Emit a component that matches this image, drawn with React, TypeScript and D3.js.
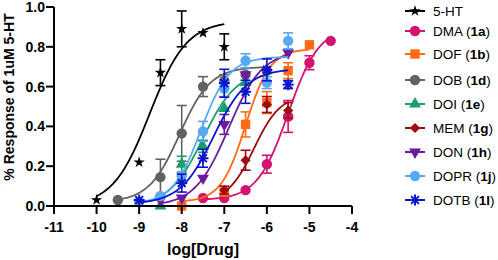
import React from "react";
import * as d3 from "d3";

// ---------- data ----------
const seriesNames = ["5-HT", "DMA", "DOF", "DOB", "DOI", "MEM", "DON", "DOPR", "DOTB"];
const seriesCodes = ["", "1a", "1b", "1d", "1e", "1g", "1h", "1j", "1l"];

const dose5HT = [-10, -9, -8.5, -8, -7.5, -7];
const resp5HT = [0.03, 0.22, 0.67, 0.89, 0.87, 0.8];
const err5HT = [0, 0, 0.065, 0.09, 0, 0.065];

const doseDMA = [-7.5, -7, -6.5, -6, -5.5, -5, -4.5];
const respDMA = [0.04, 0.04, 0.08, 0.21, 0.45, 0.72, 0.83];
const errDMA = [0, 0, 0, 0.045, 0.08, 0.035, 0];

const doseDOF = [-8, -7, -6.5, -6, -5.5, -5];
const respDOF = [0.0, 0.07, 0.41, 0.52, 0.68, 0.81];
const errDOF = [0, 0, 0.063, 0.055, 0.04, 0];

const doseDOB = [-9.5, -8.5, -8, -7.5, -7, -6.5, -6];
const respDOB = [0.03, 0.145, 0.365, 0.6, 0.63, 0.66, 0.68];
const errDOB = [0, 0.09, 0.14, 0.05, 0.03, 0, 0];

const doseDOI = [-8.5, -8, -7.5, -7, -6.5];
const respDOI = [0.0, 0.21, 0.3, 0.49, 0.62];
const errDOI = [0, 0.04, 0.03, 0, 0];

const doseMEM = [-7, -6.5, -6, -5.5];
const respMEM = [0.08, 0.23, 0.51, 0.48];
const errMEM = [0.02, 0.05, 0.04, 0.04];

const doseDON = [-8.5, -8, -7.5, -7, -6.5, -5.5];
const respDON = [0.03, 0.04, 0.14, 0.41, 0.66, 0.77];
const errDON = [0, 0, 0, 0.05, 0, 0];

const doseDOPR = [-9, -8.5, -8, -7.5, -7, -6.5, -6, -5.5];
const respDOPR = [0.02, 0.05, 0.15, 0.375, 0.59, 0.73, 0.62, 0.83];
const errDOPR = [0, 0, 0, 0.05, 0.04, 0.035, 0.03, 0.04];

const doseDOTB = [-9, -8, -7.5, -7, -6.5, -6, -5.5];
const respDOTB = [0.03, 0.115, 0.24, 0.617, 0.574, 0.684, 0.61];
const errDOTB = [0, 0.045, 0.045, 0.07, 0.058, 0.055, 0.02];

// four-parameter logistic fits: [bottom, top, logEC50, hill]
const fit5HT = [0, 0.93, -8.75, 1.0];
const fitDMA = [0.03, 0.9, -5.5, 1.2];
const fitDOF = [0.02, 0.79, -6.5, 1.5];
const fitDOB = [0.02, 0.7, -8.05, 1.2];
const fitDOI = [0.0, 0.68, -7.5, 1.1];
const fitMEM = [0.02, 0.56, -6.3, 1.4];
const fitDON = [0.0, 0.78, -6.9, 1.1];
const fitDOPR = [0.01, 0.75, -7.55, 1.3];
const fitDOTB = [0.01, 0.69, -7.25, 1.1];

const xTicks = [-11, -10, -9, -8, -7, -6, -5, -4];
const yTicks = [0, 0.2, 0.4, 0.6, 0.8, 1.0];

const colors = ["#000000", "#D2136F", "#FF6A12", "#626262", "#1B9E6D", "#9C0B10", "#6B1C9E", "#58A9F4", "#0A14CC"];
const shapes = ["star", "circle", "square", "circle", "triangle", "diamond", "triangleDown", "circle", "asterisk"];

const doses = [dose5HT, doseDMA, doseDOF, doseDOB, doseDOI, doseMEM, doseDON, doseDOPR, doseDOTB];
const resps = [resp5HT, respDMA, respDOF, respDOB, respDOI, respMEM, respDON, respDOPR, respDOTB];
const errs = [err5HT, errDMA, errDOF, errDOB, errDOI, errMEM, errDON, errDOPR, errDOTB];
const fits = [fit5HT, fitDMA, fitDOF, fitDOB, fitDOI, fitMEM, fitDON, fitDOPR, fitDOTB];

// ---------- layout ----------
const W = 498, H = 260;
const x = d3.scaleLinear().domain([-11, -4]).range([54, 352]);
const y = d3.scaleLinear().domain([0, 1]).range([206, 7]);
const legendY = [11, 31, 54, 80, 104, 128, 152, 176, 200];

function logistic(p: number[], v: number) {
  const [b, t, ec, h] = p;
  return b + (t - b) / (1 + Math.pow(10, (ec - v) * h));
}

function Marker({ shape, color, cx, cy }: { shape: string; color: string; cx: number; cy: number }) {
  if (shape === "asterisk") {
    const r = 5.5;
    const angles = [0, 45, 90, 135];
    return (
      <g transform={`translate(${cx},${cy})`} stroke={color} strokeWidth={2}>
        {angles.map((a) => {
          const rad = (a * Math.PI) / 180;
          return <line key={a} x1={-r * Math.cos(rad)} y1={-r * Math.sin(rad)} x2={r * Math.cos(rad)} y2={r * Math.sin(rad)} />;
        })}
      </g>
    );
  }
  let sym: any = d3.symbolCircle;
  let size = 85;
  let rot = 0;
  if (shape === "star") { sym = d3.symbolStar; size = 40; }
  if (shape === "square") { sym = d3.symbolSquare; size = 88; }
  if (shape === "triangle") { sym = d3.symbolTriangle; size = 62; }
  if (shape === "triangleDown") { sym = d3.symbolTriangle; size = 62; rot = 180; }
  if (shape === "diamond") { sym = d3.symbolSquare; size = 52; rot = 45; }
  const path = d3.symbol().type(sym).size(size)() as string;
  return <path d={path} transform={`translate(${cx},${cy}) rotate(${rot})`} fill={color} />;
}

export default function App() {
  const line = d3.line<[number, number]>().x((d) => x(d[0])).y((d) => y(d[1])).curve(d3.curveLinear);
  const font = "Arial, 'Liberation Sans', Helvetica, sans-serif";
  return (
    <svg width={W} height={H} style={{ position: "absolute", left: 0, top: 0, background: "#fff" }} fontFamily={font}>
      {/* series */}
      {seriesNames.map((name, i) => {
        const ds = doses[i];
        const lo = d3.min(ds) as number, hi = d3.max(ds) as number;
        const pts: [number, number][] = d3.range(0, 101).map((k) => {
          const v = lo + ((hi - lo) * k) / 100;
          return [v, logistic(fits[i], v)];
        });
        const c = colors[i];
        return (
          <g key={name}>
            <path d={line(pts) as string} fill="none" stroke={c} strokeWidth={1.8} />
            {ds.map((d, j) => {
              const e = errs[i][j];
              if (!e) return null;
              const px = x(d);
              return (
                <g key={j} stroke={c} strokeWidth={1.6}>
                  <line x1={px} x2={px} y1={y(resps[i][j] + e)} y2={y(resps[i][j] - e)} />
                  <line x1={px - 5} x2={px + 5} y1={y(resps[i][j] + e)} y2={y(resps[i][j] + e)} />
                  <line x1={px - 5} x2={px + 5} y1={y(resps[i][j] - e)} y2={y(resps[i][j] - e)} />
                </g>
              );
            })}
            {ds.map((d, j) => (
              <Marker key={"m" + j} shape={shapes[i]} color={c} cx={x(d)} cy={y(resps[i][j])} />
            ))}
          </g>
        );
      })}

      {/* axes */}
      <g stroke="#000" strokeWidth={2}>
        <line x1={x(-11)} x2={x(-4)} y1={y(0)} y2={y(0)} />
        <line x1={x(-11)} x2={x(-11)} y1={y(0)} y2={y(1)} />
        {xTicks.map((t) => (
          <line key={t} x1={x(t)} x2={x(t)} y1={y(0)} y2={y(0) + 8} />
        ))}
        {yTicks.map((t) => (
          <line key={t} x1={x(-11) - 8} x2={x(-11)} y1={y(t)} y2={y(t)} />
        ))}
      </g>
      {xTicks.map((t) => (
        <text key={t} x={x(t)} y={232} textAnchor="middle" fontSize={14} fontWeight="bold">{t}</text>
      ))}
      {yTicks.map((t) => (
        <text key={t} x={45} y={y(t) + 5} textAnchor="end" fontSize={14} fontWeight="bold">{t.toFixed(1)}</text>
      ))}
      <text x={203} y={255} textAnchor="middle" fontSize={16} fontWeight="bold">log[Drug]</text>
      <text transform={`translate(14,97) rotate(-90)`} textAnchor="middle" fontSize={14} fontWeight="bold">% Response of 1uM 5-HT</text>

      {/* legend */}
      {seriesNames.map((name, i) => (
        <g key={"lg" + name}>
          <line x1={405} x2={425} y1={legendY[i]} y2={legendY[i]} stroke={colors[i]} strokeWidth={2} />
          <Marker shape={shapes[i]} color={colors[i]} cx={415} cy={legendY[i]} />
          <text x={433} y={legendY[i] + 4.5} fontSize={13.5}>
            {name}
            {seriesCodes[i] ? (
              <>
                {" ("}
                <tspan fontWeight="bold">{seriesCodes[i]}</tspan>
                {")"}
              </>
            ) : null}
          </text>
        </g>
      ))}
    </svg>
  );
}
